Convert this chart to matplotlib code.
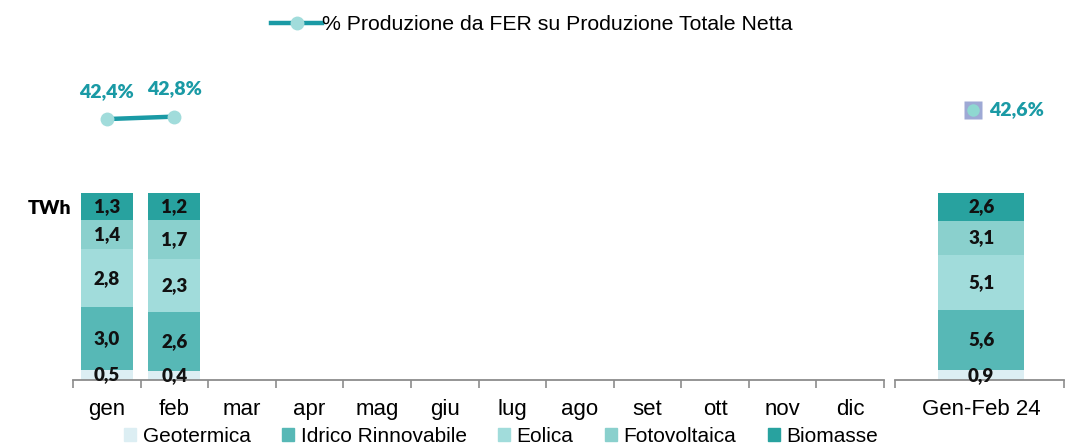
import matplotlib.pyplot as plt
from matplotlib.lines import Line2D
from matplotlib.patches import Patch
import numpy as np

mesi = ["gen", "feb", "mar", "apr", "mag", "giu", "lug", "ago", "set", "ott", "nov", "dic"]
fonti = ["Geotermica", "Idrico Rinnovabile", "Eolica", "Fotovoltaica", "Biomasse"]
colori = ["#DCEEF3", "#57B8B6", "#A1DCDB", "#8AD0CD", "#28A29F"]

# TWh per mese (solo gen e feb disponibili)
geotermica = [0.5, 0.4]
idrico = [3.0, 2.6]
eolica = [2.8, 2.3]
fotovoltaica = [1.4, 1.7]
biomasse = [1.3, 1.2]

# cumulato
cum_label = "Gen-Feb 24"
cum_valori = [0.9, 5.6, 5.1, 3.1, 2.6]

quota_fer = [42.4, 42.8]
quota_fer_cum = 42.6

fam_txt = ["Liberation Sans", "DejaVu Sans"]
fam_num = ["Lato", "DejaVu Sans"]
teal = "#1A9AA5"

fig = plt.figure(figsize=(10.65, 4.48), dpi=100)
ax = fig.add_axes([73 / 1065, 68 / 448, 811 / 1065, 320 / 448])
ax2 = fig.add_axes([895 / 1065, 68 / 448, 169 / 1065, 320 / 448])


def stacca(a, x, colonne, larg):
    tot = sum(colonne)
    base = 0
    for v, c in zip(colonne, colori):
        h = v / tot * 100
        a.bar(x, h, larg, bottom=base, color=c, edgecolor="none")
        a.text(x, base + h / 2, f"{v:.1f}".replace(".", ","), ha="center", va="center",
               fontsize=13.5, fontweight="heavy", family=fam_num, color="#111111")
        base += h


serie = [geotermica, idrico, eolica, fotovoltaica, biomasse]
for i in range(len(geotermica)):
    stacca(ax, i, [s[i] for s in serie], 0.77)
stacca(ax2, 0, cum_valori, 0.51)

for a, xl in ((ax, (-0.5, 11.5)), (ax2, (-0.51, 0.49))):
    a.set_xlim(*xl)
    a.set_ylim(0, 171)
    for s in ("top", "right", "left"):
        a.spines[s].set_visible(False)
    a.spines["bottom"].set_color("#8C8C8C")
    a.spines["bottom"].set_linewidth(1.3)
    a.set_yticks([])
    a.tick_params(axis="x", which="major", length=0, pad=14, labelsize=16)
    a.tick_params(axis="x", which="minor", length=6, color="#8C8C8C", width=1.2, direction="out")

ax.set_xticks(range(12))
ax.set_xticklabels(mesi, family=fam_txt)
ax.set_xticks(np.arange(-0.5, 12, 1), minor=True)
ax2.set_xticks([0])
ax2.set_xticklabels([cum_label], family=fam_txt)
ax2.set_xticks([-0.51, 0.49], minor=True)

# quota FER
axl = ax.twinx()
axl.set_ylim(0, 52)
axl.axis("off")
axl.plot(range(len(quota_fer)), quota_fer, color=teal, lw=3.2, marker="o", ms=10,
         mfc="#A1DCDB", mec="none")
for i, q in enumerate(quota_fer):
    axl.annotate(f"{q:.1f}%".replace(".", ","), (i, q), xytext=(0, 20), textcoords="offset points",
                 ha="center", va="center", color=teal, fontsize=14, fontweight="heavy", family=fam_num)

axl2 = ax2.twinx()
axl2.set_ylim(0, 50.5)
axl2.axis("off")
axl2.plot([-0.05], [quota_fer_cum], marker="s", ms=13, mfc="#9EA9D5", mec="none", ls="none")
axl2.plot([-0.05], [quota_fer_cum], marker="o", ms=9, mfc="#8FD8D1", mec="none", ls="none")
axl2.annotate(f"{quota_fer_cum:.1f}%".replace(".", ","), (-0.05, quota_fer_cum), xytext=(12, 0),
              textcoords="offset points", ha="left", va="center", color=teal, fontsize=14,
              fontweight="heavy", family=fam_num)

fig.text(28 / 1065, 1 - 208 / 448, "TWh", fontsize=14, fontweight="heavy", family=fam_num,
         va="center", ha="left")

h_line = Line2D([], [], color=teal, lw=3.2, marker="o", ms=10, mfc="#A1DCDB", mec="none")
fig.legend([h_line], ["% Produzione da FER su Produzione Totale Netta"], loc="center",
           bbox_to_anchor=(532 / 1065, 1 - 25 / 448), frameon=False, handlelength=2.4,
           handletextpad=0.0, prop={"family": fam_txt, "size": 15.3})

h_box = [Patch(color=c) for c in colori]
fig.legend(h_box, fonti, loc="center", bbox_to_anchor=(501 / 1065, 1 - 436 / 448), ncol=5,
           frameon=False, handlelength=0.6, handleheight=0.6, handletextpad=0.3,
           columnspacing=1.5, borderpad=0.1, prop={"family": fam_txt, "size": 15})

fig.savefig("out.png", dpi=100)
